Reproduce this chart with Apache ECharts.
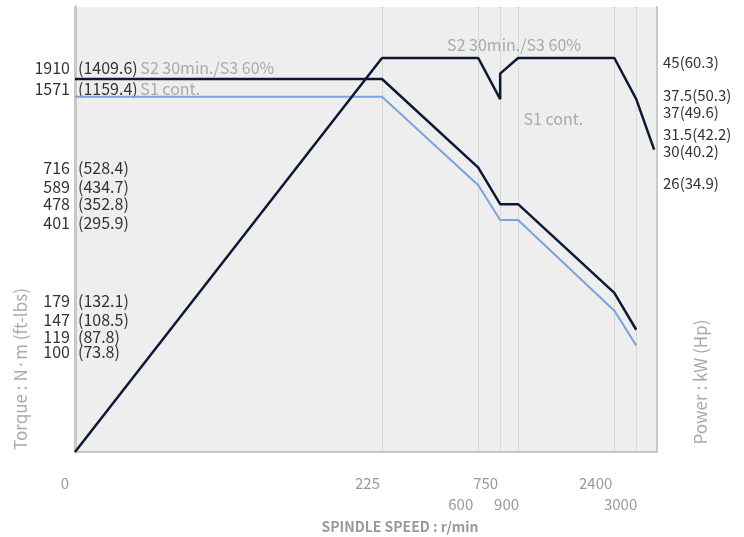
<!DOCTYPE html>
<html>
<head>
<meta charset="utf-8">
<title>Spindle torque / power</title>
<script src="https://cdn.jsdelivr.net/npm/echarts@6/dist/echarts.min.js"></script>
<style>
  html, body { margin: 0; padding: 0; background: #fff; }
  #chart-main { width: 744px; height: 537px; }
</style>
</head>
<body>
<div id="chart-main"></div>
<script>
  // curve data (speed in r/min, torque in N·m, power in kW)
  const speedTorque = [0, 225, 600, 750, 900, 2400, 3000];
  const torqueS2 = [1910, 1910, 716, 478, 478, 179, 119];
  const torqueS1 = [1571, 1571, 589, 401, 401, 147, 100];
  const speedPower = [0, 225, 600, 750, 750, 900, 2400, 3000, 3600];
  const powerS2 = [0, 45, 45, 37.5, 42, 45, 45, 37.5, 30];

  // axis labels
  const speedLabelsRow1 = [0, 225, 750, 2400];
  const speedLabelsRow2 = [600, 900, 3000];
  const speedGrid = [225, 600, 750, 900, 2400, 3000];
  const torqueLabels = [1910, 1571, 716, 589, 478, 401, 179, 147, 119, 100];
  const torqueFtLbs = ['1409.6', '1159.4', '528.4', '434.7', '352.8', '295.9', '132.1', '108.5', '87.8', '73.8'];
  const torqueNotes = ['S2 30min./S3 60%', 'S1 cont.', '', '', '', '', '', '', '', ''];
  const powerLabels = [45, 37.5, 37, 31.5, 30, 26];
  const powerHp = ['60.3', '50.3', '49.6', '42.2', '40.2', '34.9'];

  // label nudges in px (the sheet spreads crowded labels apart)
  const torqueLabelShift = [-10.7, -8.2, 0, 1.4, 0, 2.5, 8.4, 8.9, 7, 6.3];
  const powerLabelShift = [4, -4, 10.5, -4.6, 2, 1];
  const row1LabelShift = [0, 0, 0, 0];
  const row2LabelShift = [-3, 3, 3];

  // the sheet draws speed linear up to 225 r/min and logarithmic above,
  // torque and power both logarithmic (with their own decade length)
  const X_MAX = 582, Y_MAX = 445;
  function sx(s) {
    return s <= 225 ? s / 225 * 307 : 307 + 226 * Math.log10(s / 225);
  }
  function ty(t) {
    return 373 - 208 * Math.log10(1910 / t);
  }
  function py(p) {
    return p <= 0 ? 0 : 394 - 520 * Math.log10(45 / p);
  }

  const FONT = '"Noto Sans CJK JP", "Noto Sans", sans-serif';
  const LINE_LINE = '#c8c8c8';

  const torquePos = torqueLabels.map((t, i) => ty(t) - torqueLabelShift[i]);
  const powerPos = powerLabels.map((p, i) => py(p) - powerLabelShift[i]);
  const row1Pos = speedLabelsRow1.map((s, i) => sx(s) + row1LabelShift[i]);
  const row2Pos = speedLabelsRow2.map((s, i) => sx(s) + row2LabelShift[i]);

  function findIdx(list, v) {
    for (let i = 0; i < list.length; i++) {
      if (Math.abs(list[i] - v) < 0.01) return i;
    }
    return -1;
  }

  // echarts drops the first/last label when it touches its neighbour,
  // so blank labels are put at both ends of the axis
  function withEnds(list, max) {
    const out = list.slice();
    if (findIdx(list, max) < 0) out.unshift(max);
    if (findIdx(list, 0) < 0) out.push(0);
    return out;
  }

  const chart = echarts.init(document.getElementById('chart-main'), null, { renderer: 'canvas' });

  const xBase = {
    type: 'value',
    position: 'bottom',
    min: 0,
    max: X_MAX,
    axisTick: { show: false },
    splitLine: { show: false },
    axisLine: { show: false }
  };

  const labelFlags = { hideOverlap: false };

  const noteLabel = {
    show: true, color: '#aaa', fontSize: 16, fontFamily: FONT
  };

  const option = {
    animation: false,
    textStyle: { fontFamily: FONT },
    grid: {
      left: 75, right: 87, top: 7, bottom: 85,
      containLabel: false, outerBoundsMode: 'none',
      show: true, backgroundColor: '#eeeeee', borderWidth: 0
    },
    xAxis: [
      Object.assign({}, xBase, {
        axisLine: { show: true, lineStyle: { color: LINE_LINE, width: 2 } },
        axisTick: { show: false, customValues: speedGrid.map(sx) },
        splitLine: { show: true, lineStyle: { type: 'dotted', color: '#c4c4c4', width: 1 } },
        axisLabel: Object.assign({
          customValues: withEnds(row1Pos, X_MAX),
          formatter: v => {
            const i = findIdx(row1Pos, v);
            if (i < 0) return ' ';
            // the zero sits a little further left of the axis corner
            return i === 0 ? '{z|' + speedLabelsRow1[i] + '}' : String(speedLabelsRow1[i]);
          },
          align: 'right', padding: [0, 2, 0, 0],
          color: '#999', fontSize: 15, margin: 24, fontFamily: FONT,
          rich: { z: { color: '#999', fontSize: 15, fontFamily: FONT, padding: [0, 4, 0, 0] } }
        }, labelFlags)
      }),
      Object.assign({}, xBase, {
        axisLabel: Object.assign({
          customValues: withEnds(row2Pos, X_MAX),
          formatter: v => {
            const i = findIdx(row2Pos, v);
            return i < 0 ? ' ' : String(speedLabelsRow2[i]);
          },
          align: 'right', padding: [0, 2, 0, 0],
          color: '#999', fontSize: 15, margin: 45, fontFamily: FONT
        }, labelFlags)
      })
    ],
    yAxis: [
      {
        type: 'value', position: 'left', min: 0, max: Y_MAX,
        axisLine: { show: true, lineStyle: { color: LINE_LINE, width: 3 } },
        axisTick: { show: false },
        splitLine: { show: false },
        axisLabel: Object.assign({
          customValues: withEnds(torquePos, Y_MAX),
          formatter: v => {
            const i = findIdx(torquePos, v);
            return i < 0 ? ' ' : String(torqueLabels[i]);
          },
          color: '#333', fontSize: 16, margin: 5, fontFamily: FONT
        }, labelFlags)
      },
      {
        type: 'value', position: 'left', min: 0, max: Y_MAX,
        axisLine: { show: false },
        axisTick: { show: false },
        splitLine: { show: false },
        axisLabel: Object.assign({
          inside: true,
          customValues: withEnds(torquePos, Y_MAX),
          formatter: v => {
            const i = findIdx(torquePos, v);
            if (i < 0) return ' ';
            return '{a|(' + torqueFtLbs[i] + ')}' + (torqueNotes[i] ? ' {b|' + torqueNotes[i] + '}' : '');
          },
          margin: 3,
          rich: {
            a: { color: '#333', fontSize: 16, fontFamily: FONT },
            b: { color: '#aaa', fontSize: 16, fontFamily: FONT }
          }
        }, labelFlags)
      },
      {
        type: 'value', position: 'right', min: 0, max: Y_MAX,
        axisLine: { show: true, lineStyle: { color: LINE_LINE, width: 2 } },
        axisTick: { show: false },
        splitLine: { show: false },
        axisLabel: Object.assign({
          customValues: withEnds(powerPos, Y_MAX),
          formatter: v => {
            const i = findIdx(powerPos, v);
            return i < 0 ? ' ' : powerLabels[i] + '(' + powerHp[i] + ')';
          },
          color: '#333', fontSize: 15, margin: 6, fontFamily: FONT
        }, labelFlags)
      }
    ],
    series: [
      {
        name: 'S1 torque',
        type: 'line',
        symbol: 'none',
        data: speedTorque.map((s, i) => [sx(s), ty(torqueS1[i])]),
        lineStyle: { color: '#7ba3dc', width: 2 },
        z: 3
      },
      {
        name: 'S2 torque',
        type: 'line',
        symbol: 'none',
        data: speedTorque.map((s, i) => [sx(s), ty(torqueS2[i])]),
        lineStyle: { color: '#0c1836', width: 2.5 },
        z: 4
      },
      {
        name: 'S2 power',
        type: 'line',
        symbol: 'none',
        data: speedPower.map((s, i) => [sx(s), py(powerS2[i])]),
        lineStyle: { color: '#0c1836', width: 2.5 },
        markPoint: {
          symbol: 'circle', symbolSize: 0, silent: true,
          data: [
            {
              // S2 power curve name, above its 900 r/min corner
              coord: [sx(900), py(45)],
              label: Object.assign({
                position: 'top', distance: 5, offset: [-4, 0], formatter: 'S2 30min./S3 60%'
              }, noteLabel)
            },
            {
              // S1 continuous rating (37 kW)
              coord: [sx(1290), py(37)],
              label: Object.assign({
                position: 'bottom', distance: 9, formatter: 'S1 cont.'
              }, noteLabel)
            }
          ]
        },
        z: 5
      }
    ],
    graphic: [
      {
        type: 'text', x: 21, y: 369, rotation: Math.PI / 2,
        style: {
          text: 'Torque : N·m (ft-lbs)', fill: '#aaa', font: '17px ' + FONT,
          align: 'center', verticalAlign: 'middle'
        }
      },
      {
        type: 'text', x: 701, y: 382, rotation: Math.PI / 2,
        style: {
          text: 'Power : kW (Hp)', fill: '#aaa', font: '17px ' + FONT,
          align: 'center', verticalAlign: 'middle'
        }
      },
      {
        type: 'text', x: 400, y: 527,
        style: {
          text: 'SPINDLE SPEED : r/min', fill: '#999', font: 'bold 14px ' + FONT,
          align: 'center', verticalAlign: 'middle'
        }
      }
    ]
  };

  chart.setOption(option);
</script>
</body>
</html>
